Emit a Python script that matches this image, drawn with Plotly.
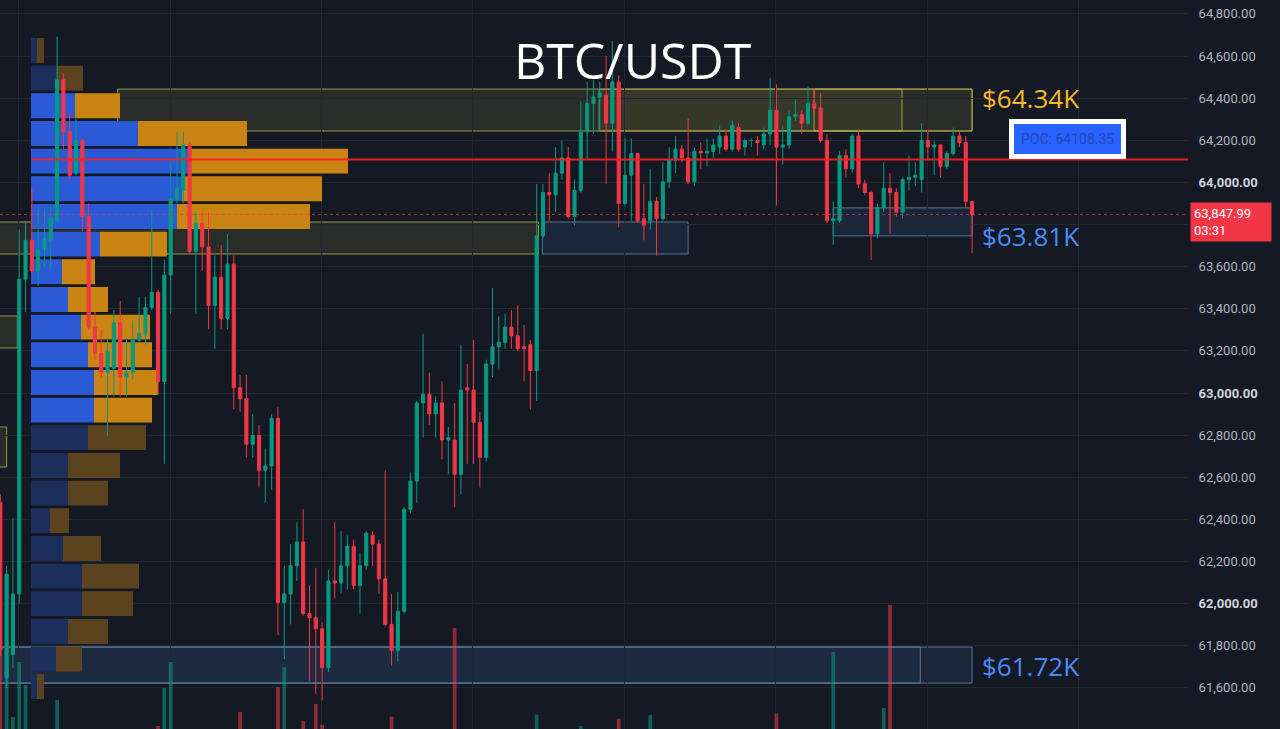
import plotly.graph_objects as go

# ---------------- data ----------------
opens = [62480, 61650, 61758, 62046, 63540, 63725, 63581, 63684, 63725, 63818,
         64487, 64240, 64044, 64199, 63838, 63313, 63189, 63097, 63117, 63334,
         63076, 63097, 63251, 63282, 63406, 63478, 63055, 63560, 63920, 63962,
         64178, 63673, 63807, 63694, 63416, 63550, 63354, 63612, 63025, 62973,
         62757, 62798, 62633, 62654, 62880, 62005, 62046, 62180, 62293, 61953,
         61933, 61881, 61696, 62108, 62098, 62180, 62273, 62087, 62180, 62324,
         62283, 62118, 61902, 61778, 61964, 62448, 62582, 62953, 62994, 62901,
         62953, 62777, 62777, 62613, 63025, 63014, 62860, 62695, 63138, 63220,
         63241, 63313, 63272, 63220, 63230, 63107, 63746, 63952, 63941, 64044,
         64116, 63838, 63962, 64240, 64374, 64405, 64415, 64281, 64477, 63900,
         64034, 64137, 63828, 63818, 63910, 63828, 64003, 64106, 64158, 64116,
         64003, 64147, 64140, 64147, 64168, 64220, 64158, 64260, 64168, 64199,
         64199, 64178, 64230, 64343, 64168, 64178, 64312, 64322, 64281, 64374,
         64353, 64199, 63818, 63818, 64127, 64065, 64220, 63993, 63952, 63756,
         63880, 63972, 63952, 63859, 64013, 64024, 64013, 64199, 64168, 64178,
         64075, 64137, 64220, 64189, 63910]
highs = [62520, 62180, 62407, 63776, 63818, 63972, 63880, 63880, 63890, 64693,
         64518, 64333, 64302, 64210, 63900, 63385, 63303, 63261, 63395, 63437,
         63261, 63344, 63457, 63457, 63869, 63490, 63632, 64096, 64240, 64240,
         64190, 63858, 63858, 63858, 63653, 63704, 63756, 63653, 63086, 63086,
         62901, 62849, 62736, 62901, 62932, 62180, 62283, 62386, 62448, 62087,
         62170, 61912, 62160, 62386, 62345, 62324, 62304, 62242, 62345, 62345,
         62304, 62633, 62046, 62056, 62458, 62623, 62963, 63282, 63097, 62983,
         63055, 62839, 62953, 63230, 63138, 63251, 62911, 63158, 63498, 63364,
         63375, 63395, 63416, 63323, 63251, 63993, 63993, 64044, 64168, 64199,
         64168, 64013, 64384, 64477, 64487, 64477, 64600, 64672, 64508, 64209,
         64209, 64137, 63993, 64065, 63931, 64096, 64168, 64220, 64178, 64302,
         64168, 64189, 64209, 64209, 64271, 64250, 64292, 64281, 64209, 64209,
         64220, 64260, 64497, 64466, 64271, 64343, 64394, 64343, 64456, 64446,
         64425, 64230, 63910, 64147, 64158, 64230, 64240, 64013, 63962, 63900,
         64096, 64044, 63972, 64024, 64127, 64096, 64281, 64250, 64199, 64178,
         64147, 64260, 64240, 64220, 63910]
lows = [61750, 61600, 61696, 62000, 63385, 63570, 63509, 63600, 63581, 63810,
        64158, 64013, 64034, 63766, 63303, 63158, 63076, 62798, 62983, 62983,
        62983, 63066, 63241, 63230, 63395, 62994, 62664, 63375, 63900, 63900,
        63663, 63375, 63581, 63303, 63210, 63303, 63303, 62922, 62911, 62695,
        62695, 62551, 62479, 62540, 61850, 61737, 61902, 62108, 61943, 61634,
        61572, 61541, 61675, 62025, 62046, 62067, 62067, 61953, 62160, 62180,
        62046, 61892, 61706, 61727, 61954, 62430, 62479, 62788, 62849, 62788,
        62685, 62613, 62458, 62520, 62664, 62664, 62551, 62675, 63076, 63117,
        63210, 63210, 63200, 63055, 62922, 62963, 63736, 63818, 63859, 64013,
        63828, 63797, 63952, 64106, 64230, 64240, 63993, 64147, 63787, 63890,
        63818, 63808, 63725, 63776, 63653, 63818, 63972, 64044, 64096, 63993,
        63982, 64065, 64075, 64116, 64137, 64147, 64147, 64147, 64127, 64168,
        64127, 64158, 64178, 63890, 64085, 64158, 64292, 64230, 64271, 64322,
        64189, 63808, 63704, 63808, 64024, 64044, 63972, 63941, 63632, 63735,
        63859, 63756, 63838, 63828, 63962, 63982, 63952, 64106, 64034, 64024,
        64065, 64127, 64168, 63879, 63663]
closes = [61780, 62140, 62046, 63540, 63725, 63581, 63684, 63735, 63828, 64487,
          64240, 64034, 64199, 63838, 63313, 63189, 63097, 63200, 63334, 63076,
          63097, 63251, 63282, 63406, 63478, 63055, 63560, 63920, 63972, 64178,
          63673, 63807, 63694, 63416, 63550, 63354, 63612, 63025, 62973, 62757,
          62798, 62633, 62654, 62880, 62005, 62046, 62180, 62293, 61953, 61933,
          61881, 61696, 62108, 62098, 62180, 62273, 62087, 62180, 62335, 62283,
          62118, 61902, 61778, 61964, 62448, 62582, 62953, 62994, 62901, 62953,
          62777, 62788, 62613, 63014, 63014, 62860, 62695, 63138, 63220, 63241,
          63313, 63272, 63210, 63210, 63107, 63746, 63952, 63941, 64044, 64116,
          63838, 63962, 64240, 64374, 64405, 64425, 64281, 64477, 63900, 64034,
          64137, 63818, 63797, 63910, 63828, 64003, 64106, 64158, 64116, 64003,
          64147, 64140, 64147, 64178, 64220, 64158, 64271, 64158, 64199, 64199,
          64189, 64230, 64343, 64168, 64178, 64312, 64322, 64281, 64374, 64353,
          64199, 63818, 63828, 64127, 64065, 64220, 63993, 63952, 63756, 63880,
          63972, 63952, 63859, 64013, 64024, 64034, 64199, 64168, 64178, 64075,
          64137, 64220, 64189, 63910, 63847.99]
volumes = [1090, 1790, 416, 949, 726, 260, 240, 190, 220, 581,
           280, 250, 210, 270, 290, 230, 200, 240, 210, 220,
           170, 180, 150, 190, 260, 329, 697, 949, 280, 270,
           290, 230, 180, 250, 200, 190, 220, 280, 465, 260,
           180, 230, 200, 240, 707, 900, 270, 220, 377, 280,
           542, 339, 290, 210, 190, 180, 170, 200, 190, 150,
           180, 290, 420, 250, 280, 200, 270, 260, 190, 170,
           210, 160, 1278, 280, 200, 230, 210, 260, 270, 180,
           160, 170, 190, 150, 240, 440, 280, 190, 200, 170,
           260, 210, 330, 270, 190, 160, 280, 290, 400, 230,
           200, 250, 180, 436, 210, 190, 170, 150, 130, 200,
           160, 120, 110, 140, 150, 130, 160, 170, 120, 100,
           110, 140, 260, 450, 150, 180, 140, 130, 190, 150,
           210, 290, 1045, 280, 180, 190, 230, 170, 270, 220,
           503, 1500, 210, 200, 170, 140, 230, 160, 130, 170,
           140, 180, 150, 270, 260]

# volume profile rows (price level of each row, buy / sell volume)
profile_prices = [64626, 64495, 64364, 64232, 64101, 63970, 63838, 63707,
                  63576, 63444, 63313, 63182, 63050, 62919, 62788, 62656,
                  62525, 62394, 62262, 62131, 62000, 61868, 61737, 61606]
profile_buy = [12, 52, 88, 214, 318, 302, 292, 138, 62, 74, 100, 114,
               126, 126, 114, 74, 74, 38, 64, 102, 102, 74, 50, 12]
profile_sell = [14, 52, 90, 218, 316, 280, 266, 134, 66, 80, 138, 128,
                128, 116, 116, 104, 80, 38, 76, 114, 102, 80, 52, 14]
value_area = [False, False, True, True, True, True, True, True, True, True,
              True, True, True, True, False, False, False, False, False,
              False, False, False, False, False]

poc_price = 64108.35
last_price = 63847.99
tick_prices = list(range(61400, 64801, 200))

BG = "#151924"
GRID = "#222633"
GREEN = "#089981"
RED = "#f23645"

n = len(opens)
idx = list(range(n))

fig = go.Figure()

# volume profile (base subplot)
blue_cols = ["#2a5ad6" if v else "#1c2e5c" for v in value_area]
orange_cols = ["#c98414" if v else "#5c4320" for v in value_area]
fig.add_trace(go.Bar(y=profile_prices, x=profile_buy, base=[0] * len(profile_buy),
                     orientation="h", width=118, marker=dict(color=blue_cols, line_width=0),
                     xaxis="x", yaxis="y", hoverinfo="skip"))
fig.add_trace(go.Bar(y=profile_prices, x=profile_sell, base=profile_buy,
                     orientation="h", width=118, marker=dict(color=orange_cols, line_width=0),
                     xaxis="x", yaxis="y", hoverinfo="skip"))

# volume bars
vol_cols = ["rgba(8,153,129,0.55)" if c >= o else "rgba(242,54,69,0.55)"
            for o, c in zip(opens, closes)]
fig.add_trace(go.Bar(x=idx, y=volumes, width=0.6, marker=dict(color=vol_cols, line_width=0),
                     xaxis="x2", yaxis="y2", hoverinfo="skip"))

# candles
fig.add_trace(go.Candlestick(
    x=idx, open=opens, high=highs, low=lows, close=closes,
    xaxis="x2", yaxis="y",
    increasing=dict(line=dict(color=GREEN, width=1), fillcolor=GREEN),
    decreasing=dict(line=dict(color=RED, width=1), fillcolor=RED),
    hoverinfo="skip"))

# ---------------- zones ----------------
shapes = []
def zone(x0, x1, y0, y1, fill, line, dash="solid"):
    shapes.append(dict(type="rect", xref="x2", yref="y", x0=x0, x1=x1, y0=y0, y1=y1,
                       fillcolor=fill, line=dict(color=line, width=1, dash=dash),
                       layer="below"))

YF = "rgba(150,150,60,0.16)"
YL = "rgba(200,190,80,0.75)"
BF = "rgba(50,85,135,0.22)"
BL = "rgba(110,145,180,0.75)"
zone(18.6, 154.0, 64244, 64443, YF, YL)
zone(94.9, 142.9, 64244, 64443, "rgba(150,150,60,0.12)", YL)
zone(128.95, 154.0, 64244, 64443, "rgba(0,0,0,0)", YL)
zone(-1, 85.3, 63660, 63812, YF, YL)
zone(85.9, 109.0, 63660, 63812, BF, BL)
zone(-1, 2.7, 63214, 63366, YF, YL)
zone(-1, 1.0, 62649, 62839, YF, YL)
zone(132.0, 154.0, 63746, 63879, BF, BL)
zone(-1, 154.0, 61623, 61794, BF, BL)
zone(-1, 145.8, 61623, 61794, "rgba(50,85,135,0.12)", BL)

# POC line and last price line
shapes.append(dict(type="line", xref="paper", yref="y", x0=31 / 1188, x1=1,
                   y0=poc_price, y1=poc_price, line=dict(color="#ff1f1f", width=2),
                   layer="above", opacity=0.9))
shapes.append(dict(type="line", xref="paper", yref="y", x0=0, x1=1,
                   y0=last_price, y1=last_price,
                   line=dict(color="rgba(242,54,69,0.7)", width=1, dash="dot"),
                   layer="above"))

annotations = [
    dict(text="BTC/USDT", xref="paper", yref="paper", x=633 / 1188, y=1 - 60 / 729,
         xanchor="center", yanchor="middle", showarrow=False,
         font=dict(family="Open Sans", size=50, color="white")),
    dict(text="$64.34K", xref="paper", yref="paper", x=980 / 1188, y=1 - 98 / 729,
         xanchor="left", yanchor="middle", showarrow=False,
         font=dict(family="Open Sans", size=26, color="#f5b82a")),
    dict(text="$63.81K", xref="paper", yref="paper", x=980 / 1188, y=1 - 236 / 729,
         xanchor="left", yanchor="middle", showarrow=False,
         font=dict(family="Open Sans", size=26, color="#4a8cf5")),
    dict(text="$61.72K", xref="paper", yref="paper", x=980 / 1188, y=1 - 666 / 729,
         xanchor="left", yanchor="middle", showarrow=False,
         font=dict(family="Open Sans", size=26, color="#4a8cf5")),
    dict(text="POC: 64108.35", xref="paper", yref="paper", x=1067 / 1188, y=1 - 139 / 729,
         xanchor="center", yanchor="middle", showarrow=False,
         font=dict(family="Roboto", size=14, color="#2148b8"),
         bgcolor="#2962ff", bordercolor="white", borderwidth=5, borderpad=7),
    dict(text="63,847.99<br>03:31", xref="paper", yref="paper", x=1190 / 1188,
         y=1 - 222 / 729, xanchor="left", yanchor="middle", showarrow=False, align="left",
         width=74, font=dict(family="Roboto", size=13, color="white"),
         bgcolor=RED, borderpad=3),
]

# tick labels; the one under the last-price label is covered in the original
ticktext = []
for p in tick_prices:
    s = f"{p:,.2f}"
    if p == 63800:
        ticktext.append("")
    elif p % 1000 == 0:
        ticktext.append(f"<b><span style='color:#d1d4dc'>{s}</span></b>")
    else:
        ticktext.append(s)

fig.update_layout(
    width=1280, height=729,
    margin=dict(l=0, r=92, t=0, b=0, pad=0),
    paper_bgcolor=BG, plot_bgcolor=BG,
    showlegend=False, hovermode=False, barmode="overlay",
    shapes=shapes, annotations=annotations,
    xaxis=dict(range=[-62, 2314], visible=False, rangeslider=dict(visible=False),
               fixedrange=True),
    xaxis2=dict(overlaying="x", range=[-0.048, 188.22], showgrid=True, gridcolor=GRID,
                gridwidth=1, tickvals=[2.9 + 24 * k for k in range(8)],
                showticklabels=False, ticks="", zeroline=False, showline=False,
                rangeslider=dict(visible=False)),
    yaxis=dict(range=[61405, 64866], side="right", tickvals=tick_prices, ticktext=ticktext,
               showgrid=True, gridcolor=GRID, gridwidth=1, zeroline=False, showline=False,
               ticks="outside", ticklen=7, tickcolor=BG,
               tickfont=dict(family="Roboto", size=13, color="#b2b5be")),
    yaxis2=dict(overlaying="y", range=[300, 7356], visible=False),
)

fig.write_html("out.html")
